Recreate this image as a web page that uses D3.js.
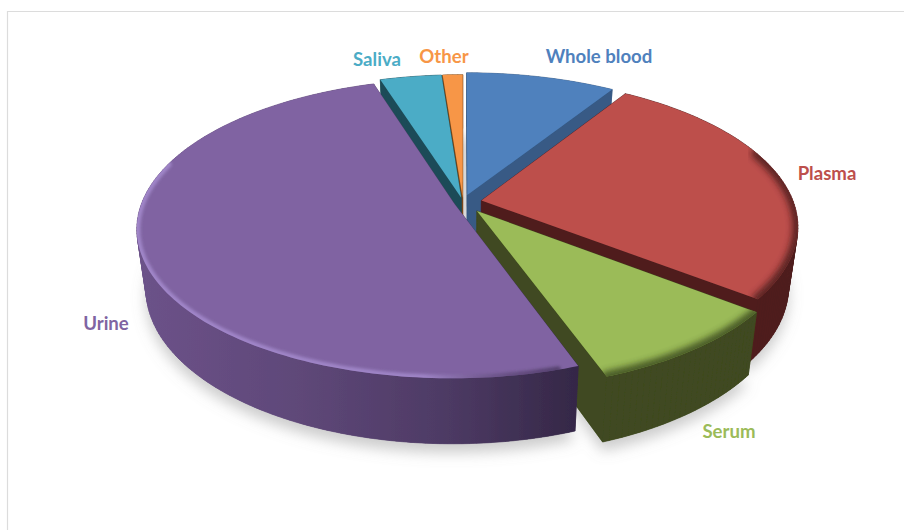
<!DOCTYPE html>
<html><head><meta charset="utf-8">
<script src="https://cdn.jsdelivr.net/npm/d3@7"></script>
<style>html,body{margin:0;padding:0;background:#fff;overflow:hidden}</style></head>
<body><svg id="c" width="904" height="530" xmlns="http://www.w3.org/2000/svg"></svg>
<script>
// Data
const categories = ["Whole blood","Plasma","Serum","Urine","Saliva","Other"];
const shares = [9,26.5,9,50.6,3.7,1.2];
const explode = [0.05,0.06,0.075,0.03,0.03,0.03];
const topColors = ["#4f81bd","#bd4f4c","#9bbb59","#8064a2","#4bacc6","#f79646"];
const sideColors = ["#375a85","#4f1e1e","#3f4a20","url(#urineWall)","#1d4c58","#7a4718"];
const rimColors = [null,"#3a1212","#2f3a12","url(#urineRim)",null,null];
const labelX = [599,827,729,106,377,444];
const labelY = [57,174,432,324,60,57];
const paintOrder = [0,5,4,1,2,3];

// Layout
const W=904,H=530,cx=463,cy=202,A=312,B=145,K=0.168;
const depthF=0.972;
const xs=d3.scaleLinear().domain([0,1]).range([0,A]);
const ys=d3.scaleLinear().domain([0,1]).range([0,-B]);
const wallH=d3.scaleLinear().domain([80,365]).range([54,65]);
const project=(X,Y)=>{const s=1/(1+K*Y);return [cx+xs(X)*s,cy+ys(Y)*s];};
const drop=p=>[cx+(p[0]-cx)*depthF,p[1]+wallH(p[1])];

const arcs=d3.pie().value(d=>d).sort(null)(shares);
const slices=arcs.map((d,i)=>{
  const mid=(d.startAngle+d.endAngle)/2,e=explode[i];
  const ox=e*Math.sin(mid),oy=e*Math.cos(mid);
  const pt=a=>project(ox+Math.sin(a),oy+Math.cos(a));
  const n=Math.max(4,Math.ceil((d.endAngle-d.startAngle)/0.02));
  const as=d3.range(n+1).map(j=>d.startAngle+(d.endAngle-d.startAngle)*j/n);
  return {i,apex:project(ox,oy),rim:as.map(pt),as,pt};
});
const line=d3.line();

const svg=d3.select("#c");
const defs=svg.append("defs");
const blur=(id,s)=>defs.append("filter").attr("id",id).attr("x","-20%").attr("y","-20%").attr("width","140%").attr("height","140%")
  .append("feGaussianBlur").attr("stdDeviation",s);
blur("shadowBlur",7);blur("rimBlur",3);blur("lightBlur",1.8);blur("soft",0.45);
const grad=(id,x1,x2,stops)=>{const g=defs.append("linearGradient").attr("id",id).attr("gradientUnits","userSpaceOnUse")
  .attr("x1",x1).attr("x2",x2).attr("y1",0).attr("y2",0);
  stops.forEach(s=>g.append("stop").attr("offset",s[0]).attr("stop-color",s[1]).attr("stop-opacity",s[2]===undefined?1:s[2]));};
grad("urineWall",140,580,[[0,"#6c5289"],[0.35,"#5f4879"],[0.7,"#4d3a64"],[1,"#342746"]]);
grad("urineRim",136,580,[[0,"#ab92d6"],[0.65,"#a88fd2"],[0.85,"#4d3a64",0.7],[1,"#342746",0.9]]);

// frame
svg.append("path").attr("d",line([[7.5,H],[7.5,11.5],[W,11.5]])).attr("fill","none").attr("stroke","#dcdcdc").attr("stroke-width",1.2);

const root=svg.append("g").attr("filter","url(#soft)");
// cast shadow
root.append("g").attr("filter","url(#shadowBlur)").selectAll("path").data(slices).join("path")
  .attr("d",s=>line([s.apex,...s.rim].map(p=>{const q=drop(p);return [q[0],q[1]+9];}))+"Z")
  .attr("fill","#9a9a9a").attr("opacity",0.5);

paintOrder.forEach(idx=>{
  const s=slices[idx];
  const g=root.append("g").attr("class","slice");
  const ring=[s.apex,...s.rim];
  const side=sideColors[idx];
  // walls: bottom face and one quad per edge
  g.append("path").attr("d",line(ring.map(drop))+"Z").attr("fill",side);
  ring.forEach((p,j)=>{
    const q=ring[(j+1)%ring.length];
    g.append("path").attr("d",line([p,q,drop(q),drop(p)])+"Z").attr("fill",side).attr("stroke",side).attr("stroke-width",0.6);
  });
  // top
  const clipId="clip"+idx;
  const topD=line(ring)+"Z";
  defs.append("clipPath").attr("id",clipId).append("path").attr("d",topD);
  g.append("path").attr("d",topD).attr("fill",topColors[idx]);
  if(rimColors[idx]){
    const isUrine=idx===3;
    const from=isUrine?d3.bisect(s.as,2.85):(idx===1?d3.bisect(s.as,1.2):0);
    const to=isUrine?d3.bisect(s.as,5.0):s.rim.length;
    g.append("g").attr("clip-path",`url(#${clipId})`)
     .append("path").attr("d",line(s.rim.slice(from,to))).attr("fill","none")
     .attr("stroke",rimColors[idx]).attr("stroke-width",isUrine?7:11)
     .attr("stroke-linecap","round").attr("opacity",isUrine?0.75:0.75)
     .attr("filter",isUrine?"url(#lightBlur)":"url(#rimBlur)");
  }
});

// labels
svg.append("g").selectAll("text").data(categories).join("text")
  .attr("x",(d,i)=>labelX[i]).attr("y",(d,i)=>labelY[i]+6)
  .attr("text-anchor","middle").attr("font-family","Lato, 'Open Sans', sans-serif")
  .attr("font-weight",700).attr("font-size",18.6)
  .attr("fill",(d,i)=>topColors[i]).text(d=>d);
</script></body></html>
